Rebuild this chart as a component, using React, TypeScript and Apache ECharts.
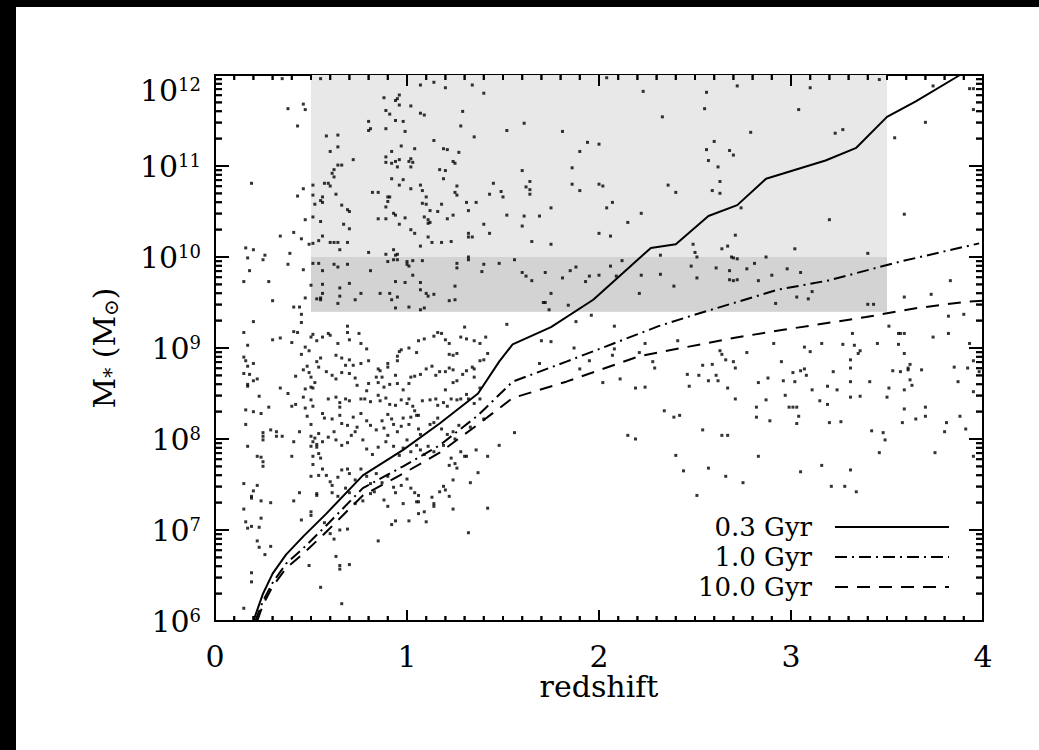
import React, { useEffect, useRef } from "react";
import * as echarts from "echarts";

// ---- data (redshift, log10 stellar mass) ----
const galaxiesLogM: number[][] = [
  [0.35,11.96],[0.55,11.96],[0.38,11.63],[0.46,11.68],[0.47,11.62],[0.43,11.44],[0.19,10.81],[0.46,10.75],[0.43,10.67],[0.47,10.41],
  [0.34,10.23],[0.41,10.27],[0.45,10.2],[0.49,10.14],[0.16,10.1],[0.2,10.08],[0.17,9.99],[0.26,10.02],[0.25,9.97],[0.18,9.85],
  [0.15,9.73],[0.28,9.73],[0.39,10.04],[0.38,9.92],[0.46,9.86],[0.3,9.52],[0.41,9.45],[0.44,9.45],[0.47,9.55],[0.5,9.69],
  [0.88,11.75],[0.95,11.74],[0.96,11.78],[0.94,11.72],[0.96,11.67],[0.89,11.61],[0.91,11.57],[0.94,11.5],[0.98,11.49],[0.99,11.38],
  [0.89,11.41],[0.8,11.49],[0.81,11.41],[0.8,11.39],[1.02,11.66],[1.07,11.58],[1.09,11.56],[1.07,11.89],[1.14,11.92],[1.2,11.86],
  [1.34,11.89],[1.4,11.8],[1.29,11.6],[1.28,11.44],[1.35,11.32],[1.14,11.28],[1.19,11.19],[1.21,11.18],[1.27,11.15],[1.24,11.05],
  [1.25,11.03],[1.17,10.96],[1.2,10.95],[1.19,10.86],[1.26,10.78],[1.25,10.71],[1.26,10.68],[1.31,10.6],[1.36,10.6],[1.43,10.69],
  [1.45,10.81],[1.32,10.51],[1.4,10.36],[1.32,10.26],[1.34,10.22],[1.43,10.26],[0.58,11.33],[0.64,11.34],[0.64,11.21],[0.6,11.16],
  [0.72,11.07],[0.64,11.01],[0.66,11.01],[0.62,10.96],[0.61,10.92],[0.62,10.88],[0.6,10.78],[0.59,10.81],[0.57,10.81],[0.51,10.79],
  [0.51,10.68],[0.56,10.66],[0.55,10.62],[0.56,10.6],[0.52,10.58],[0.63,10.69],[0.66,10.57],[0.69,10.52],[0.7,10.5],[0.67,10.36],
  [0.7,10.31],[0.51,10.44],[0.55,10.39],[0.97,11.22],[0.92,11.16],[0.94,11.05],[0.96,11.07],[0.92,11.03],[0.89,11.1],[0.89,11.04],
  [1.02,11.08],[1.01,11.05],[1.04,11.19],[1.03,11.04],[1.02,10.99],[0.95,10.99],[0.96,10.79],[0.92,10.86],[0.98,10.85],[1.02,10.75],
  [0.82,10.71],[0.85,10.71],[0.9,10.66],[0.91,10.66],[0.9,10.61],[0.89,10.55],[0.93,10.48],[0.94,10.46],[0.96,10.36],[0.85,10.42],
  [0.89,10.42],[0.99,10.43],[1.07,10.79],[1.08,10.73],[1.1,10.66],[1.08,10.59],[1.1,10.58],[1.12,10.51],[1.11,10.41],[1.09,10.44],
  [1.11,10.37],[1.12,10.38],[1.16,10.5],[1.18,10.58],[1.21,10.42],[1.24,10.46],[1.04,10.26],[1.02,10.3],[1.07,10.12],[1.11,10.22],
  [1.13,10.16],[1.18,10.16],[1.23,10.17],[1.32,10.22],[0.51,10.15],[0.54,10.18],[0.56,10.23],[0.6,10.16],[0.62,10.16],[0.64,10.16],
  [0.65,10.08],[0.69,10.16],[0.8,10.05],[0.93,10.08],[0.94,10.02],[0.95,9.97],[0.89,10.03],[0.95,10.03],[0.51,9.93],[0.54,9.93],
  [0.56,9.85],[0.62,9.92],[0.64,9.89],[0.69,9.92],[0.81,9.85],[0.9,9.95],[0.93,9.97],[1.0,9.95],[1.03,9.96],[1.0,9.92],
  [1.01,9.9],[1.08,9.96],[1.03,9.8],[1.26,9.93],[1.26,9.88],[1.32,10.0],[1.32,9.97],[1.4,9.92],[1.39,9.84],[1.48,9.93],
  [0.56,9.7],[0.65,9.66],[0.7,9.71],[0.56,9.6],[0.53,9.54],[0.55,9.55],[0.55,9.53],[0.65,9.57],[0.64,9.49],[0.73,9.53],
  [0.76,9.6],[0.86,9.6],[0.91,9.6],[0.94,9.73],[0.99,9.72],[1.07,9.72],[1.07,9.64],[1.1,9.6],[1.11,9.57],[1.14,9.59],
  [1.25,9.68],[1.25,9.53],[1.22,9.52],[0.92,9.53],[0.95,9.56],[0.94,9.44],[1.01,9.45],[1.07,9.42],[1.09,9.44],
  [2.04,11.97],[2.23,11.82],[2.56,11.81],[2.72,11.88],[3.1,11.86],[3.46,11.95],[3.74,11.88],[3.93,11.85],[3.95,11.85],[3.95,11.62],
  [3.7,11.48],[3.54,11.31],[3.59,10.47],[3.4,10.04],[3.83,9.74],[3.59,9.56],[3.73,9.59],[3.4,9.48],[3.43,9.48],
  [1.52,11.39],[1.61,11.47],[1.81,11.38],[2.33,11.54],[2.55,11.63],[2.79,11.37],[3.04,11.62],[3.23,11.36],[3.27,11.4],[2.6,11.27],
  [2.56,11.18],[2.57,11.06],[2.68,11.17],[2.7,11.12],[2.62,10.99],[2.63,10.83],[2.59,10.73],[2.63,10.7],[1.94,11.26],[1.9,11.16],
  [2.0,11.24],[1.86,10.98],[1.86,10.8],[1.9,10.73],[2.0,10.8],[2.02,10.78],[1.6,10.95],[1.64,10.83],[1.62,10.77],[1.64,10.74],
  [1.64,10.69],[1.49,10.72],[1.5,10.66],[1.75,10.54],[1.52,10.46],[1.61,10.45],[1.69,10.45],[1.6,10.34],[1.65,10.17],[1.75,10.14],
  [2.0,10.26],[2.06,10.23],[2.04,10.54],[2.07,10.6],[2.15,10.38],[2.22,10.48],[2.36,10.79],[2.4,10.71],[2.74,10.54],[2.71,10.24],
  [2.67,10.12],[2.64,10.09],[3.2,10.41],[3.02,10.09],[2.49,10.14],[2.5,10.05],[2.51,10.0],[2.69,10.0],[2.7,9.99],[2.72,9.98],
  [2.87,10.0],[1.56,9.97],[1.6,9.83],[1.62,9.79],[1.65,9.74],[1.72,9.83],[1.81,9.77],[1.85,9.85],[1.88,9.89],[1.93,9.73],
  [1.95,9.79],[2.0,9.8],[2.06,9.9],[2.09,9.79],[2.12,9.96],[2.22,9.8],[2.32,9.81],[2.21,9.6],[2.39,9.68],[2.48,9.9],
  [2.51,9.77],[2.61,9.88],[2.68,9.85],[2.68,9.75],[2.7,9.74],[2.72,9.75],[2.77,9.87],[2.81,9.93],[2.83,9.74],[2.9,9.8],
  [2.98,9.87],[3.05,9.83],[1.75,9.6],[1.71,9.5],[1.72,9.5],[1.74,9.42],[1.84,9.47],[2.32,10.02],[2.92,9.49],[3.03,9.56],
  [3.09,9.54],[3.11,9.62],
  [0.2,9.29],[0.15,9.17],[0.17,9.03],[0.15,8.9],[0.16,8.86],[0.17,8.8],[0.2,8.83],[0.15,8.72],[0.18,8.71],[0.17,8.6],
  [0.17,8.58],[0.2,8.64],[0.22,8.66],[0.23,8.47],[0.16,8.32],[0.2,8.3],[0.16,8.16],[0.24,8.28],[0.25,8.07],[0.25,8.03],
  [0.25,7.99],[0.28,8.35],[0.29,8.1],[0.32,8.08],[0.32,8.03],[0.3,9.09],[0.34,9.11],[0.34,8.56],[0.35,8.03],[0.38,8.5],
  [0.4,8.36],[0.42,8.38],[0.41,7.97],[0.44,8.08],[0.4,7.81],[0.22,7.81],[0.24,7.8],[0.25,7.75],[0.25,7.7],[0.17,7.92],
  [0.15,7.51],[0.15,7.23],[0.19,7.37],[0.2,7.43],[0.22,7.49],[0.24,7.32],[0.24,7.13],[0.16,7.09],[0.17,7.02],[0.19,7.04],
  [0.19,7.35],[0.23,7.03],[0.22,6.88],[0.23,6.81],[0.26,6.73],[0.29,6.82],[0.29,7.3],[0.41,7.32],[0.44,7.41],[0.45,7.11],
  [0.19,6.53],[0.19,6.43],[0.15,6.14],[0.45,9.28],[0.41,9.18],[0.43,9.17],[0.45,9.37],[0.4,9.06],[0.45,8.93],[0.42,8.69],
  [0.47,9.01],[0.49,8.97],[0.51,9.15],[0.5,9.12],[0.53,9.08],[0.56,9.12],[0.55,8.89],[0.53,8.85],[0.48,8.8],[0.54,8.79],
  [0.46,8.76],[0.49,8.73],[0.5,8.68],[0.52,8.62],[0.5,8.57],[0.51,8.56],[0.47,8.55],[0.46,8.46],[0.47,8.34],[0.5,8.43],
  [0.51,8.36],[0.48,8.25],[0.5,8.16],[0.5,8.03],[0.52,8.01],[0.51,7.97],[0.5,7.92],[0.53,7.94],[0.53,7.91],[0.54,7.84],
  [0.51,7.81],[0.55,7.79],[0.51,7.72],[0.5,7.59],[0.54,7.6],[0.53,7.4],[0.5,7.2],[0.5,7.16],[0.53,7.38],[0.59,9.16],
  [0.6,9.14],[0.64,9.05],[0.69,9.17],[0.7,9.09],[0.69,9.24],[0.75,9.16],[0.76,9.05],[0.79,8.99],[0.63,8.92],[0.66,8.89],
  [0.7,8.87],[0.68,8.81],[0.72,8.81],[0.76,8.83],[0.8,8.86],[0.85,8.77],[0.86,8.75],[0.9,8.83],[0.9,8.79],[0.95,8.86],
  [0.96,8.96],[0.97,8.98],[0.95,8.91],[1.01,9.0],[1.05,8.95],[1.06,9.08],[1.09,9.1],[1.14,9.13],[1.16,9.17],[1.18,9.16],
  [1.2,9.09],[1.22,9.05],[1.22,8.93],[1.24,8.92],[1.26,8.94],[1.28,9.12],[1.3,9.23],[1.31,9.1],[1.35,9.08],[1.38,9.05],
  [1.41,9.12],[1.42,8.94],[1.4,8.87],[0.58,8.74],[0.61,8.7],[0.63,8.66],[0.66,8.73],[0.7,8.72],[0.73,8.67],[0.74,8.59],
  [0.79,8.53],[0.8,8.61],[0.84,8.68],[0.85,8.62],[0.87,8.68],[0.88,8.57],[0.91,8.6],[0.94,8.7],[0.95,8.61],[0.98,8.54],
  [1.01,8.61],[1.02,8.68],[1.04,8.69],[1.07,8.71],[1.1,8.77],[1.13,8.8],[1.15,8.7],[1.17,8.74],[1.2,8.74],[1.22,8.78],
  [1.24,8.76],[1.26,8.64],[1.29,8.71],[1.31,8.75],[1.34,8.79],[1.35,8.77],[1.38,8.86],[1.35,8.68],[1.38,8.56],[1.31,8.49],
  [1.28,8.44],[1.24,8.62],[1.2,8.54],[0.59,8.44],[0.63,8.46],[0.65,8.4],[0.65,8.35],[0.68,8.44],[0.7,8.42],[0.76,8.44],
  [0.78,8.44],[0.81,8.41],[0.85,8.48],[0.86,8.42],[0.89,8.45],[0.91,8.38],[0.94,8.37],[0.97,8.43],[1.01,8.44],[1.0,8.39],
  [1.03,8.36],[1.04,8.31],[1.06,8.26],[1.08,8.42],[1.12,8.43],[1.15,8.44],[1.16,8.37],[1.19,8.4],[1.21,8.36],[1.23,8.44],
  [1.26,8.43],[1.32,8.44],[1.35,8.39],[1.38,8.44],[0.56,8.28],[0.57,8.23],[0.61,8.22],[0.65,8.26],[0.66,8.17],[0.69,8.15],
  [0.72,8.24],[0.74,8.13],[0.76,8.28],[0.79,8.2],[0.81,8.15],[0.84,8.1],[0.87,8.2],[0.88,8.12],[0.9,8.27],[0.92,8.22],
  [0.93,8.16],[0.95,8.08],[0.97,8.14],[0.98,8.23],[1.01,8.16],[1.02,8.24],[1.05,8.26],[1.06,8.11],[1.07,8.05],[1.12,8.16],
  [1.14,8.18],[1.16,8.23],[1.18,8.11],[1.21,8.05],[1.24,8.08],[1.25,8.0],[1.27,8.15],[1.33,8.13],[1.4,8.22],[0.54,8.06],
  [0.56,7.97],[0.59,8.02],[0.62,8.08],[0.63,7.99],[0.66,7.93],[0.69,7.96],[0.71,8.04],[0.73,8.08],[0.77,7.99],[0.79,7.89],
  [0.82,7.83],[0.85,7.91],[0.89,7.97],[0.9,8.04],[0.93,7.92],[0.96,7.82],[0.98,7.9],[1.0,7.99],[1.02,7.86],[1.05,7.93],
  [1.07,7.88],[1.09,7.83],[1.11,7.92],[1.14,7.86],[1.19,7.93],[1.22,7.71],[1.23,7.79],[1.25,7.73],[1.28,7.86],[1.31,7.81],
  [1.36,7.88],[1.42,7.81],[1.48,7.93],[0.56,7.67],[0.58,7.6],[0.6,7.53],[0.61,7.49],[0.64,7.58],[0.66,7.66],[0.69,7.67],
  [0.7,7.62],[0.73,7.55],[0.76,7.67],[0.79,7.59],[0.81,7.51],[0.84,7.62],[0.87,7.52],[0.9,7.59],[0.93,7.47],[0.94,7.41],
  [0.97,7.49],[1.0,7.56],[1.02,7.46],[1.04,7.41],[1.06,7.38],[1.06,7.31],[1.09,7.2],[1.13,7.36],[1.14,7.29],[1.19,7.48],
  [1.22,7.37],[1.24,7.55],[1.26,7.68],[1.3,7.81],[1.33,7.52],[1.37,7.63],[1.42,7.24],[0.61,7.41],[0.64,7.37],[0.68,7.46],
  [0.7,7.41],[0.73,7.29],[0.77,7.32],[0.81,7.4],[0.83,7.42],[0.85,6.88],[0.88,7.33],[0.9,7.26],[0.92,7.06],[0.94,7.1],
  [0.98,7.29],[1.01,7.1],[1.05,7.31],[1.06,7.18],[1.1,7.09],[1.14,7.26],[1.17,7.42],[1.2,7.44],[1.24,7.23],[1.32,6.97],
  [0.6,6.96],[0.62,6.9],[0.65,7.0],[0.69,7.01],[0.63,6.71],[0.65,6.61],[0.7,6.62],[0.65,6.57],[0.49,6.61],[0.55,6.37],
  [0.66,6.19],[0.57,7.08],
  [1.52,9.26],[1.7,9.08],[1.75,9.07],[1.88,9.29],[1.96,9.36],[2.08,9.24],[1.69,8.83],[1.87,9.0],[1.9,8.77],[1.95,8.86],
  [2.02,8.62],[2.11,8.66],[2.19,8.56],[2.24,8.57],[2.07,8.92],[2.08,8.99],[2.21,8.95],[2.24,9.05],[2.28,8.85],[2.29,8.78],
  [2.34,8.31],[2.39,8.24],[2.42,8.26],[2.41,9.08],[2.46,8.71],[2.47,8.58],[2.52,8.7],[2.54,8.81],[2.57,8.64],[2.59,8.82],
  [2.61,8.7],[2.62,8.64],[2.63,8.97],[2.64,8.93],[2.66,8.87],[2.67,8.56],[2.7,8.85],[2.71,8.78],[2.71,8.44],[2.77,8.95],
  [2.83,8.62],[2.82,8.35],[2.82,8.24],[2.87,8.43],[2.88,8.67],[2.89,8.2],[2.91,9.05],[2.95,8.85],[2.96,8.64],[2.97,8.48],
  [2.99,8.35],[3.01,8.73],[3.02,8.63],[3.01,8.35],[3.03,8.35],[3.04,8.25],[3.03,8.17],[3.05,8.75],[3.07,8.77],[3.07,9.01],
  [3.08,8.7],[3.1,8.96],[3.11,8.54],[3.15,8.42],[3.16,9.05],[3.19,8.58],[3.19,8.38],[3.2,8.18],[3.22,8.74],[3.24,8.54],
  [3.26,8.19],[3.27,9.04],[3.31,8.87],[3.31,8.78],[3.31,8.63],[3.32,9.16],[3.33,9.03],[3.35,8.94],[3.36,8.97],[3.31,8.46],
  [3.36,8.47],[3.41,8.63],[3.45,9.05],[3.5,8.46],[3.51,8.56],[3.53,8.75],[3.56,9.16],[3.56,9.04],[3.57,8.74],[3.59,8.94],
  [3.59,8.33],[3.59,8.54],[3.61,8.78],[3.62,8.82],[3.61,8.76],[3.62,8.65],[3.63,8.59],[3.65,8.22],[3.68,8.76],[3.7,8.35],
  [3.7,8.25],[3.58,8.18],[3.74,9.12],[3.81,8.18],[3.82,9.16],[3.82,9.35],[3.85,8.79],[3.87,8.63],[3.88,8.25],[3.91,8.11],
  [3.92,8.78],[3.93,9.05],[3.95,8.86],[3.95,8.52],[3.98,8.74],[3.9,9.37],[3.8,8.08],[3.75,7.85],[3.46,7.85],[3.48,8.07],
  [3.42,8.09],[3.49,7.99],[1.56,8.07],[2.15,8.04],[2.19,8.0],[2.4,7.82],[2.44,7.65],[2.51,7.38],[2.54,8.1],[2.57,7.68],
  [2.64,8.04],[2.67,8.04],[2.66,7.59],[2.75,7.52],[2.83,7.81],[3.05,7.64],[3.16,7.71],[3.21,7.48],[3.28,7.48],[3.31,7.66],
  [3.34,7.42],[3.95,7.81],[3.51,9.24],[3.57,9.16],[3.59,9.16]
];

const track03LogM: number[][] = [
  [0.2,6.0],[0.25,6.3],[0.3,6.52],[0.37,6.73],[0.46,6.93],[0.58,7.18],[0.77,7.6],[0.98,7.88],[1.17,8.17],[1.37,8.5],
  [1.48,8.85],[1.55,9.04],[1.75,9.23],[1.97,9.53],[2.27,10.1],[2.4,10.14],[2.57,10.45],[2.72,10.57],[2.87,10.86],
  [3.18,11.06],[3.34,11.2],[3.5,11.54],[3.65,11.71],[3.88,12.0]
];
const track10LogM: number[][] = [
  [0.21,6.0],[0.25,6.22],[0.3,6.42],[0.37,6.63],[0.46,6.8],[0.58,7.05],[0.77,7.46],[0.98,7.7],[1.17,7.93],[1.37,8.26],
  [1.55,8.63],[1.83,8.85],[2.31,9.24],[2.49,9.36],[2.93,9.64],[3.19,9.74],[3.57,9.95],[3.98,10.15]
];
const track100LogM: number[][] = [
  [0.22,6.0],[0.25,6.18],[0.3,6.38],[0.37,6.58],[0.46,6.74],[0.58,6.98],[0.77,7.38],[0.98,7.62],[1.17,7.85],[1.37,8.16],
  [1.55,8.45],[1.83,8.63],[2.21,8.91],[2.7,9.11],[2.96,9.2],[3.39,9.34],[3.66,9.44],[3.92,9.51],[4.0,9.52]
];

const seriesNames = ["0.3 Gyr", "1.0 Gyr", "10.0 Gyr"];
const boxZ = [0.5, 3.5];
const boxOuterM = [2.5e9, 1e12];
const boxInnerM = [2.5e9, 1e10];
const xTickLabels = [0, 1, 2, 3, 4];
const xMinorSteps = [1, 2, 3, 4, 5, 6, 7, 8, 9];
const yDecades = [6, 7, 8, 9, 10, 11, 12];
const yMinorMultipliers = [2, 3, 4, 5, 6, 7, 8, 9];
const xRange = [0, 4];
const yRange = [1e6, 1e12];

const FONT = "DejaVu Serif";

const toMass = (arr: number[][]) => arr.map(([z, lm]) => [z, Math.pow(10, lm)]);

// tick marks as rect symbols on the frame edges (drawn through the axes' scales)
function tickSeries(name: string, points: number[][], size: number[], offset: number[]) {
  return {
    type: "scatter", name, data: points, clip: false,
    symbol: "rect", symbolSize: size, symbolOffset: offset,
    itemStyle: { color: "#000" },
  };
}

export default function App() {
  const ref = useRef<HTMLDivElement>(null);

  useEffect(() => {
    if (!ref.current) return;
    const chart = echarts.init(ref.current, undefined, { renderer: "svg" });

    const xMinor: number[] = [];
    xTickLabels.slice(0, -1).forEach((t) => xMinorSteps.forEach((s) => xMinor.push(t + s / 10)));
    const yMajor = yDecades.map((d) => Math.pow(10, d));
    const yMinor: number[] = [];
    yDecades.slice(0, -1).forEach((d) => yMinorMultipliers.forEach((m) => yMinor.push(m * Math.pow(10, d))));

    const X_MAJ = 11, X_MIN = 5, Y_MAJ = 14, Y_MIN = 7;

    const option: any = {
      animation: false,
      backgroundColor: "#fff",
      grid: {
        left: 199, right: 56, top: 68, bottom: 129,
        show: true, borderColor: "#000", borderWidth: 2, backgroundColor: "transparent",
      },
      xAxis: {
        type: "value", min: xRange[0], max: xRange[1], interval: 1,
        axisLine: { show: true, onZero: false, lineStyle: { color: "#000", width: 2 } },
        axisTick: { show: false },
        splitLine: { show: false },
        axisLabel: { show: true, margin: 20, color: "#000", fontFamily: FONT, fontSize: 30 },
        name: "redshift", nameLocation: "middle", nameGap: 50, nameMoveOverlap: false,
        nameTextStyle: { color: "#000", fontFamily: FONT, fontSize: 30 },
      },
      yAxis: {
        type: "log", logBase: 10, min: yRange[0], max: yRange[1],
        axisLine: { show: true, onZero: false, lineStyle: { color: "#000", width: 2 } },
        axisTick: { show: false },
        splitLine: { show: false },
        axisLabel: {
          show: true, margin: 14,
          verticalAlignMinLabel: "bottom", verticalAlignMaxLabel: "top",
          formatter: (v: number) => `{b|10}{s|${Math.round(Math.log10(v))}}`,
          rich: {
            b: { fontFamily: FONT, fontSize: 30, color: "#000", lineHeight: 30 },
            s: { fontFamily: FONT, fontSize: 18, color: "#000", lineHeight: 16, verticalAlign: "top" },
          },
        },
        name: "{m|M}{sub|*}{m| (M}{sub|⊙}{m|)}",
        nameLocation: "middle", nameRotate: 90, nameGap: 94, nameMoveOverlap: false,
        nameTextStyle: {
          rich: {
            m: { fontFamily: FONT, fontSize: 30, color: "#000", lineHeight: 34 },
            sub: { fontFamily: FONT, fontSize: 20, color: "#000", lineHeight: 20, verticalAlign: "bottom" },
          },
        },
      },
      legend: {
        data: seriesNames,
        orient: "vertical", align: "right",
        right: 89, top: 505, padding: 0,
        itemWidth: 114, itemHeight: 14, itemGap: 0,
        itemStyle: { opacity: 0 },
        textStyle: { fontFamily: FONT, fontSize: 26, color: "#000", lineHeight: 30, padding: [0, 18, 0, 0] },
        selectedMode: false,
      },
      series: [
        {
          type: "scatter", name: "galaxies", data: toMass(galaxiesLogM),
          symbol: "rect", symbolSize: 3, itemStyle: { color: "#000" },
          markArea: {
            silent: true,
            data: [
              [
                { xAxis: boxZ[0], yAxis: boxOuterM[0], itemStyle: { color: "#e8e8e8" } },
                { xAxis: boxZ[1], yAxis: boxOuterM[1] },
              ],
              [
                { xAxis: boxZ[0], yAxis: boxInnerM[0], itemStyle: { color: "#d3d3d3" } },
                { xAxis: boxZ[1], yAxis: boxInnerM[1] },
              ],
            ],
          },
        },
        {
          type: "line", name: seriesNames[0], data: toMass(track03LogM), symbol: "none",
          lineStyle: { color: "#000", width: 2, type: "solid" }, itemStyle: { color: "#000" },
        },
        {
          type: "line", name: seriesNames[1], data: toMass(track10LogM), symbol: "none",
          lineStyle: { color: "#000", width: 2, type: [12, 5, 2, 5] }, itemStyle: { color: "#000" },
        },
        {
          type: "line", name: seriesNames[2], data: toMass(track100LogM), symbol: "none",
          lineStyle: { color: "#000", width: 2, type: [13, 9] }, itemStyle: { color: "#000" },
        },
        tickSeries("xMajorBottom", xTickLabels.map((v) => [v, yRange[0]]), [2, X_MAJ], [0, -X_MAJ / 2]),
        tickSeries("xMajorTop", xTickLabels.map((v) => [v, yRange[1]]), [2, X_MAJ], [0, X_MAJ / 2]),
        tickSeries("xMinorBottom", xMinor.map((v) => [v, yRange[0]]), [2, X_MIN], [0, -X_MIN / 2]),
        tickSeries("xMinorTop", xMinor.map((v) => [v, yRange[1]]), [2, X_MIN], [0, X_MIN / 2]),
        tickSeries("yMajorLeft", yMajor.map((v) => [xRange[0], v]), [Y_MAJ, 2], [Y_MAJ / 2, 0]),
        tickSeries("yMajorRight", yMajor.map((v) => [xRange[1], v]), [Y_MAJ, 2], [-Y_MAJ / 2, 0]),
        tickSeries("yMinorLeft", yMinor.map((v) => [xRange[0], v]), [Y_MIN, 2], [Y_MIN / 2, 0]),
        tickSeries("yMinorRight", yMinor.map((v) => [xRange[1], v]), [Y_MIN, 2], [-Y_MIN / 2, 0]),
      ],
    };

    chart.setOption(option);

    // the same ticks again as graphic rectangles, positioned through the axes' scales
    const px = (x: number, y: number) => chart.convertToPixel({ gridIndex: 0 } as any, [x, y]) as number[];
    const rect = (x: number, y: number, w: number, h: number) => ({
      type: "rect", z: 100,
      shape: { x, y, width: w, height: h },
      style: { fill: "#000" },
    });
    const els: any[] = [];
    const addX = (vals: number[], len: number) =>
      vals.forEach((v) => {
        const b = px(v, yRange[0]);
        const t = px(v, yRange[1]);
        if (!b || !t) return;
        els.push(rect(b[0] - 1, b[1] - len, 2, len));
        els.push(rect(t[0] - 1, t[1], 2, len));
      });
    const addY = (vals: number[], len: number) =>
      vals.forEach((v) => {
        const l = px(xRange[0], v);
        const r = px(xRange[1], v);
        if (!l || !r) return;
        els.push(rect(l[0], l[1] - 1, len, 2));
        els.push(rect(r[0] - len, r[1] - 1, len, 2));
      });
    addX(xTickLabels, X_MAJ);
    addX(xMinor, X_MIN);
    addY(yMajor, Y_MAJ);
    addY(yMinor, Y_MIN);
    chart.setOption({ graphic: { elements: els } });

    return () => chart.dispose();
  }, []);

  return (
    <div style={{ position: "fixed", left: 0, top: 0, width: 1039, height: 750, background: "#000" }}>
      <div
        ref={ref}
        style={{ position: "absolute", left: 16, top: 7, width: 1023, height: 743, background: "#fff" }}
      />
    </div>
  );
}
